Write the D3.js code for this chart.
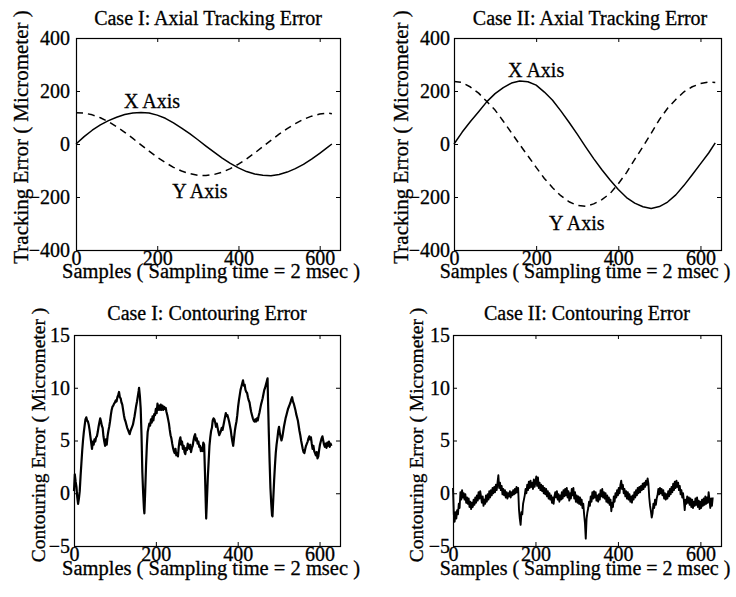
<!DOCTYPE html>
<html>
<head>
<meta charset="utf-8">
<script src="https://cdn.jsdelivr.net/npm/d3@7/dist/d3.min.js"></script>
<style>
  html, body { margin: 0; padding: 0; background: #fff; }
  svg { display: block; }
  svg text { font-family: "Liberation Serif", "Times New Roman", Times, serif !important; fill: #000; stroke: #000; stroke-width: 0.3px; }
</style>
</head>
<body>
<svg id="chart" width="736" height="597"></svg>
<script>
// ---------------- DATA ----------------
const xTicks = [0, 200, 400, 600];
const trackTicks = [-400, -200, 0, 200, 400];
const contourTicks = [-5, 0, 5, 10, 15];

// Axial tracking error, sampled every 20 samples (last point at end of run)
const track1Samples = [0,20,40,60,80,100,120,140,160,180,200,220,240,260,280,300,320,340,360,380,400,420,440,460,480,500,520,540,560,580,600,620,630];
const track1X = [0,28,52,72,88,101,111,117,119,117,109,97,80,60,39,16,-8,-31,-53,-73,-90,-104,-113,-118,-120,-115,-106,-93,-77,-57,-35,-12,0];
const track1Y = [118,117,110,99,84,65,44,21,-3,-27,-50,-70,-88,-102,-112,-118,-119,-115,-106,-93,-76,-56,-34,-10,14,37,58,77,93,105,113,117,114];

const track2Samples = [0,20,40,60,80,100,120,140,160,180,200,220,240,260,280,300,320,340,360,380,400,420,440,460,480,500,520,540,560,580,600,620,636];
const track2X = [0,45,85,122,160,190,213,230,238,235,222,196,165,125,82,37,-10,-55,-97,-136,-172,-202,-223,-237,-243,-236,-219,-192,-156,-116,-75,-34,4];
const track2Y = [236,232,215,192,160,128,86,42,-2,-45,-88,-130,-165,-195,-218,-232,-235,-226,-210,-187,-150,-108,-58,-10,40,92,135,168,197,216,228,234,232];

// Case I contouring error: [sample, micrometer]
const contour1 = [
[0,0.2],[2,1.8],[4,1.1],[6,0.6],[8,-0.4],[10,-1.0],[12,-0.5],[14,0.2],[16,1.6],[18,2.8],[20,4.0],[22,5.0],[24,5.8],[26,6.4],[28,7.0],[30,7.2],[32,6.9],[34,6.8],[36,6.5],[38,6.0],[40,5.4],[42,4.8],[44,4.2],[46,4.9],[48,4.6],[50,5.1],[52,4.9],[54,5.3],[56,5.4],[58,5.8],[60,6.3],[62,6.7],[64,7.1],[66,6.8],[68,6.4],[70,6.2],[72,5.4],[74,4.9],[76,4.5],[78,5.1],[80,4.6],[82,5.4],[84,5.9],[86,6.3],[88,6.8],[90,7.4],[92,7.9],[94,8.2],[96,8.3],[98,8.5],[100,8.6],[102,8.8],[104,8.7],[106,9.1],[108,9.3],[110,9.6],[112,9.1],[114,9.0],[116,8.6],[118,8.4],[120,7.9],[122,7.4],[124,7.0],[126,6.8],[128,6.5],[130,6.2],[132,6.0],[134,5.8],[136,5.6],[138,5.9],[140,6.1],[142,6.3],[144,6.5],[146,6.9],[148,7.3],[150,7.8],[152,8.3],[154,8.7],[156,9.2],[158,9.7],[159,10.0],[161,9.2],[163,8.0],[165,5.5],[167,2.0],[169,0.0],[171,-1.5],[172,-1.9],[174,0.2],[176,2.6],[178,4.5],[180,5.8],[182,6.2],[184,6.6],[186,6.4],[188,7.0],[190,6.7],[192,7.3],[194,6.9],[196,7.5],[198,7.4],[200,8.0],[202,7.6],[204,8.5],[206,7.9],[208,8.3],[210,7.9],[212,8.4],[214,7.9],[216,8.3],[218,7.9],[220,8.2],[222,8.0],[224,8.1],[226,7.7],[228,7.4],[230,7.0],[232,6.6],[234,6.0],[236,5.5],[238,5.2],[240,4.7],[242,4.3],[244,4.0],[246,3.8],[248,4.2],[250,3.6],[252,3.8],[254,3.5],[256,4.4],[258,5.0],[260,5.3],[262,4.6],[264,4.9],[266,4.2],[268,4.5],[270,3.9],[272,3.7],[274,4.3],[276,4.1],[278,4.7],[280,4.4],[282,4.2],[284,4.6],[286,3.9],[288,4.3],[290,4.5],[292,5.0],[294,5.4],[296,5.6],[298,5.0],[300,5.2],[302,4.7],[304,4.9],[306,4.4],[308,4.5],[310,4.0],[312,4.3],[314,4.0],[316,4.8],[318,4.6],[320,2.0],[322,-1.0],[323,-2.4],[325,-0.5],[327,1.5],[329,3.0],[331,4.5],[333,5.3],[335,5.9],[337,6.2],[339,6.9],[341,7.1],[343,7.0],[345,6.7],[347,6.3],[349,6.6],[351,6.2],[353,5.8],[355,5.5],[357,5.7],[359,5.9],[361,6.2],[363,6.0],[365,6.4],[367,6.8],[369,7.2],[371,7.6],[373,7.3],[375,7.4],[377,7.1],[379,6.8],[381,6.4],[383,6.0],[385,5.4],[387,4.9],[389,4.5],[391,5.2],[393,5.9],[395,6.4],[397,6.8],[399,7.4],[401,8.2],[403,8.8],[405,9.3],[407,9.8],[409,10.1],[411,10.4],[413,10.7],[415,10.2],[417,10.3],[419,9.8],[421,9.6],[423,9.5],[425,9.1],[427,8.8],[429,8.6],[431,8.1],[433,7.7],[435,7.4],[437,7.1],[439,6.9],[441,6.8],[443,7.0],[445,6.8],[447,7.1],[449,6.9],[451,7.3],[453,7.6],[455,8.0],[457,8.4],[459,8.7],[461,9.0],[463,9.4],[465,9.8],[467,10.0],[469,10.3],[471,10.6],[473,10.9],[474,9.0],[476,5.8],[478,3.0],[480,0.5],[482,-1.0],[484,-2.1],[485,-2.2],[487,-0.5],[489,1.2],[491,2.6],[493,3.8],[495,4.6],[497,5.2],[499,5.9],[501,6.3],[503,5.7],[505,5.3],[507,5.0],[509,5.3],[511,5.8],[513,6.3],[515,6.7],[517,7.1],[519,7.4],[521,7.7],[523,8.0],[525,8.2],[527,8.4],[529,8.6],[531,8.9],[533,9.1],[535,8.7],[537,8.5],[539,8.2],[541,7.9],[543,7.5],[545,7.2],[547,6.9],[549,6.4],[551,5.9],[553,5.5],[555,5.0],[557,4.6],[559,4.2],[561,3.9],[563,3.8],[565,4.2],[567,4.5],[569,4.7],[571,4.9],[573,5.2],[575,5.4],[577,5.1],[579,5.3],[581,4.7],[583,4.2],[585,4.5],[587,4.0],[589,3.8],[591,3.6],[593,3.9],[595,3.3],[597,3.5],[599,4.1],[601,4.6],[603,4.9],[605,5.2],[607,5.4],[609,5.0],[611,4.6],[613,4.4],[615,4.7],[617,4.3],[619,4.8],[621,4.5],[623,4.9],[625,4.4],[627,4.7],[629,4.5]
];

// Case II contouring error, one value every 2 samples starting at sample 0
const contour2Step = 2;
const contour2 = [
0.5,-2.0,-2.7,-1.8,-2.4,-1.6,-2.0,-1.0,-1.4,0.1,-0.6,0.3,-0.4,0.0,-0.6,-0.1,-0.9,-0.4,-1.0,-0.5,
-1.3,-0.8,-1.5,-0.9,-1.3,-0.6,-1.1,-0.4,-0.9,-0.2,-0.7,0.1,-0.5,0.2,-0.3,-0.9,-0.3,-1.2,-0.6,-1.0,
-0.2,-0.8,-0.1,-0.6,0.2,-0.4,0.3,-0.2,0.5,0.0,0.6,0.1,0.8,0.3,1.0,1.7,0.5,1.0,0.3,0.7,
-0.1,0.4,-0.2,0.3,-0.4,0.1,-0.5,0.0,-0.3,0.2,-0.4,0.1,-0.2,0.3,-0.1,0.4,0.0,0.6,0.1,0.5,
-1.5,-2.4,-3.0,-1.8,-2.0,-1.0,-0.6,-0.2,0.4,0.0,0.8,0.3,1.1,0.5,1.2,0.6,1.0,0.4,1.3,0.6,
1.1,1.6,0.7,1.5,0.5,1.0,0.3,0.8,0.2,0.7,0.0,0.5,-0.1,0.4,-0.3,0.2,-0.5,0.0,-0.6,-0.2,
-0.9,-0.4,-1.0,-0.3,0.1,-0.4,0.2,-0.6,-0.1,-0.8,-0.2,-0.6,0.1,-0.5,0.3,-0.3,0.4,-0.2,0.5,-0.4,
0.2,-0.7,0.0,-0.5,0.4,-0.2,0.5,-0.5,0.1,-0.8,-0.2,-0.9,-0.3,-1.0,-0.4,-1.1,-0.6,-1.4,-1.0,-2.0,
-2.8,-4.3,-2.4,-1.8,-1.4,-0.8,-1.2,-0.3,-0.8,0.1,-0.5,0.2,-0.4,0.1,-0.7,-0.2,-0.8,-0.1,-0.6,0.3,
-0.3,0.4,-0.4,0.1,-0.5,0.0,-0.8,-0.2,-0.9,-0.4,-1.1,-0.6,-1.7,-0.9,-1.3,-0.3,-0.8,0.0,-0.4,0.3,
-0.2,0.5,0.0,0.8,1.2,0.4,0.8,0.0,0.4,-0.3,0.2,-0.5,0.1,-0.6,-0.1,-0.8,-0.3,-0.9,-0.2,-0.6,
0.1,-0.4,0.3,-0.2,0.5,0.0,0.6,0.1,0.7,0.3,0.9,0.4,1.0,0.6,1.2,0.8,1.4,0.9,-0.4,-1.2,
-1.7,-2.3,-1.9,-1.0,-1.4,-0.6,-1.1,-0.5,-0.2,0.4,-0.1,0.5,0.0,0.4,-0.2,0.3,-0.5,0.0,-0.6,-0.1,
-0.5,0.2,-0.3,0.4,-0.1,0.6,0.1,0.9,0.3,1.1,0.5,1.2,0.6,1.0,0.3,0.7,-0.1,0.3,-0.4,0.0,
-0.7,-1.6,-0.6,-1.0,-0.3,-0.9,-0.4,-1.1,-0.5,-1.3,-0.6,-1.4,-0.8,-1.2,-0.5,-1.1,-0.4,-1.3,-0.7,-1.5,
-0.8,-1.4,-0.6,-1.2,-0.5,-1.1,-0.3,-1.0,-0.4,-0.9,0.1,-0.6,-1.4,-0.5,-1.2,-0.4
];

const panels = [
  { title: "Case I: Axial Tracking Error", ylabel: "Tracking Error ( Micrometer )",
    box: [76, 340, 38, 250], ydom: [-400, 400], yticks: trackTicks, ypad: 6, ylabSize: 21, xlabSize: 20.5,
    titleX: 208, titleY: 25, xlabX: 211, xlabY: 278, ylabX: 28, ylabY: 137 },
  { title: "Case II: Axial Tracking Error", ylabel: "Tracking Error ( Micrometer )",
    box: [454, 721, 38, 250], ydom: [-400, 400], yticks: trackTicks, ypad: 4, ylabSize: 21, xlabSize: 20,
    titleX: 590, titleY: 25, xlabX: 585, xlabY: 278, ylabX: 408, ylabY: 137 },
  { title: "Case I: Contouring Error", ylabel: "Contouring Error ( Micrometer )",
    box: [74, 340, 335, 546], ydom: [-5, 15], yticks: contourTicks, ypad: 4, ylabSize: 19.5, xlabSize: 20.5,
    titleX: 207, titleY: 320, xlabX: 211, xlabY: 575, ylabX: 45, ylabY: 435 },
  { title: "Case II: Contouring Error", ylabel: "Contouring Error ( Micrometer )",
    box: [453, 721, 335, 546], ydom: [-5, 15], yticks: contourTicks, ypad: 3, ylabSize: 19.5, xlabSize: 20,
    titleX: 587, titleY: 320, xlabX: 585, xlabY: 575, ylabX: 423, ylabY: 435 }
];

// ---------------- DRAW ----------------
const svg = d3.select("#chart");
const FONT = 20;
const SERIF = '"Liberation Serif", "Times New Roman", Times, serif';

function styleAxis(g) {
  g.attr("font-family", SERIF).attr("font-size", FONT);
  g.select(".domain").remove();
  g.selectAll(".tick line").attr("stroke", "#000").attr("stroke-width", 1);
  g.selectAll(".tick text").style("font-family", SERIF).style("font-size", FONT + "px").attr("fill", "#000");
}

const scales = panels.map(p => {
  const [x0, x1, y0, y1] = p.box;
  const x = d3.scaleLinear().domain([0, 650]).range([x0, x1]);
  const y = d3.scaleLinear().domain(p.ydom).range([y1, y0]);

  svg.append("g").attr("transform", `translate(0,${y1})`)
    .call(d3.axisBottom(x).tickValues(xTicks).tickSize(-4).tickPadding(1).tickFormat(d3.format("d")))
    .call(styleAxis);
  svg.append("g").attr("transform", `translate(0,${y0})`)
    .call(d3.axisTop(x).tickValues(xTicks).tickSize(-4).tickFormat(""))
    .call(styleAxis);
  svg.append("g").attr("transform", `translate(${x0},0)`)
    .call(d3.axisLeft(y).tickValues(p.yticks).tickSize(-4).tickPadding(p.ypad).tickFormat(d3.format("d")))
    .call(styleAxis);
  svg.append("g").attr("transform", `translate(${x1},0)`)
    .call(d3.axisRight(y).tickValues(p.yticks).tickSize(-4).tickFormat(""))
    .call(styleAxis);

  svg.append("rect").attr("x", x0 + 0.5).attr("y", y0 + 0.5)
    .attr("width", x1 - x0).attr("height", y1 - y0)
    .attr("fill", "none").attr("stroke", "#000").attr("stroke-width", 1.2);

  svg.append("text").attr("x", p.titleX).attr("y", p.titleY)
    .attr("text-anchor", "middle").style("font-size", FONT + "px").text(p.title);
  svg.append("text").attr("x", p.xlabX).attr("y", p.xlabY)
    .attr("text-anchor", "middle").style("font-size", p.xlabSize + "px")
    .text("Samples ( Sampling time = 2 msec )");
  svg.append("text").attr("transform", `translate(${p.ylabX},${p.ylabY}) rotate(-90)`)
    .attr("text-anchor", "middle").style("font-size", p.ylabSize + "px").text(p.ylabel);

  return { x, y };
});

function drawLine(k, pts, dashed, width) {
  const { x, y } = scales[k];
  const line = d3.line().x(d => x(d[0])).y(d => y(d[1]));
  svg.append("path").datum(pts).attr("d", line)
    .attr("fill", "none").attr("stroke", "#000")
    .attr("stroke-width", width)
    .attr("stroke-linejoin", "round")
    .attr("stroke-dasharray", dashed ? "7,5" : null);
}

drawLine(0, track1Samples.map((s, i) => [s, track1X[i]]), false, 1.5);
drawLine(0, track1Samples.map((s, i) => [s, track1Y[i]]), true, 1.5);
drawLine(1, track2Samples.map((s, i) => [s, track2X[i]]), false, 1.5);
drawLine(1, track2Samples.map((s, i) => [s, track2Y[i]]), true, 1.5);
drawLine(2, contour1, false, 2.2);
drawLine(3, contour2.map((v, i) => [i * contour2Step, v]), false, 1.9);

// curve annotations (anchored in data units)
function note(k, s, v, label) {
  const { x, y } = scales[k];
  svg.append("text").attr("x", x(s)).attr("y", y(v))
    .attr("text-anchor", "middle").style("font-size", FONT + "px").text(label);
}
note(0, 187, 136, "X Axis");
note(0, 305, -204, "Y Axis");
note(1, 200, 253, "X Axis");
note(1, 299, -325, "Y Axis");
</script>
</body>
</html>
